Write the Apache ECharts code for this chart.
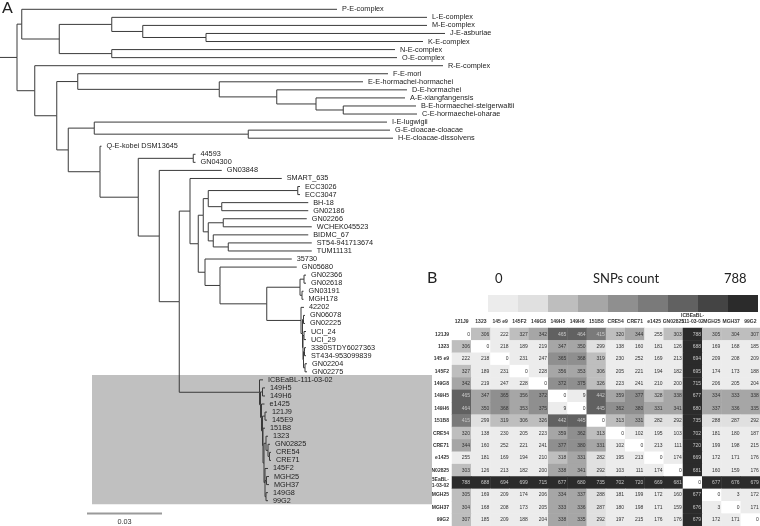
<!DOCTYPE html>
<html>
<head>
<meta charset="utf-8">
<script src="https://cdn.jsdelivr.net/npm/echarts@6/dist/echarts.min.js"></script>
<style>
  html, body { margin: 0; padding: 0; background: #fff; }
  #chart { width: 760px; height: 526px; }
</style>
</head>
<body>
<div id="chart"></div>
<script>
// --- A: phylogeny, branch lengths in substitutions/site ---
const treeNewick =
  "(((P-E-complex:0.1261,((L-E-complex:0.1261,(M-E-complex:0.1137,(J-E-asburiae:0.0956,K-E-complex:0.0868):0.0253):0.0124):0.0210," +
  "(N-E-complex:0.1133,O-E-complex:0.1141):0.0210):0.0150):0.0019," +
  "(R-E-complex:0.1633,((F-E-mori:0.1241,(E-E-hormachei-hormachei:0.0575,(D-E-hormachei:0.0521,(A-E-xiangfangensis:0.0356," +
  "(B-E-hormaechei-steigerwaltii:0.0291,C-E-hormaechei-oharae:0.0295):0.0109):0.0157):0.0230):0.0566):0.0084," +
  "((I-E-lugwigii:0.1171,(G-E-cloacae-cloacae:0.0567,H-E-cloacae-dissolvens:0.0579):0.0616):0.0104," +
  "(Q-E-kobei DSM13645:0.0006,((44593:0.0009,GN04300:0.0009):0.0220,(GN03848:0.0250," +
  "((SMART_635:0.0367," +
    "((((ECC3026:0.0009,ECC3047:0.0009):0.0358,(BH-18:0.0346,GN02186:0.0346):0.0054):0.0020," +
    "((GN02266:0.0334,WCHEK045523:0.0354):0.0060,(BIDMC_67:0.0380,(ST54-941713674:0.0334,TUM11131:0.0334):0.0060):0.0020):0.0020):0.0020," +
    "(35730:0.0347,(GN05680:0.0307,(((GN02366:0.0008,GN02618:0.0008):0.0016,(GN03191:0.0006,MGH178:0.0006):0.0008):0.0133," +
    "(42202:0.0012,((GN06078:0.0006,GN02225:0.0006):0.0004,((UCI_24:0.0008,UCI_29:0.0008):0.0004," +
    "((3380STDY6027363:0.0006,ST434-953099839:0.0006):0.0004,(GN02204:0.0008,GN02275:0.0008):0.0006):0.0002):0.0002):0.0006):0.0137" +
    "):0.0187):0.0060):0.0027):0.0033):0.0043," +
  "(ICBEaBL-111-03-02:0.0014,((149H5:0.0010,149H6:0.0010):0.0008,(e1425:0.0012,((121J9:0.0008,145E9:0.0008):0.0010," +
    "(151B8:0.0008,((1323:0.0008,(GN02825:0.0008,(CRE54:0.0006,CRE71:0.0006):0.0006):0.0008):0.0008," +
    "(145F2:0.0012,(MGH25:0.0010,MGH37:0.0010):0.0006,(149G8:0.0008,99G2:0.0008):0.0004):0.0004):0.0004):0.0002):0.0004)" +
    ":0.0004):0.0004):0.0321" +
  "):0.0080):0.0084):0.0153):0.0127):0.0046):0.0088):0.0071):0.0068);";

const highlightClade = ['ICBEaBL-111-03-02', '99G2'];
const scaleBarLength = 0.03;

// --- B: pairwise SNP distances ---
const strains = ['121J9', '1323', '145 e9', '145F2', '149G8', '149H5', '149H6', '151B8',
  'CRE54', 'CRE71', 'e1425', 'GN02825', 'ICBEaBL-111-03-02', 'MGH25', 'MGH37', '99G2'];
const snpRows = [
  [0, 306, 222, 327, 342, 465, 464, 415, 320, 344, 255, 303, 788, 305, 304, 307],
  [306, 0, 218, 189, 219, 347, 350, 299, 138, 160, 181, 126, 688, 169, 168, 185],
  [222, 218, 0, 231, 247, 365, 368, 319, 230, 252, 169, 213, 694, 209, 208, 209],
  [327, 189, 231, 0, 228, 356, 353, 306, 205, 221, 194, 182, 695, 174, 173, 188],
  [342, 219, 247, 228, 0, 372, 375, 326, 223, 241, 210, 200, 715, 206, 205, 204],
  [465, 347, 365, 356, 372, 0, 9, 442, 359, 377, 328, 338, 677, 334, 333, 338],
  [464, 350, 368, 353, 375, 9, 0, 445, 362, 380, 331, 341, 680, 337, 336, 335],
  [415, 299, 319, 306, 326, 442, 445, 0, 313, 331, 282, 292, 735, 288, 287, 292],
  [320, 138, 230, 205, 223, 359, 362, 313, 0, 102, 195, 103, 702, 181, 180, 187],
  [344, 160, 252, 221, 241, 377, 380, 331, 102, 0, 213, 111, 720, 199, 198, 215],
  [255, 181, 169, 194, 210, 318, 331, 282, 195, 213, 0, 174, 669, 172, 171, 176],
  [303, 126, 213, 182, 200, 338, 341, 292, 103, 111, 174, 0, 681, 160, 159, 176],
  [788, 688, 694, 699, 715, 677, 680, 735, 702, 720, 669, 681, 0, 677, 676, 679],
  [305, 169, 209, 174, 206, 334, 337, 288, 181, 199, 172, 160, 677, 0, 3, 172],
  [304, 168, 208, 173, 205, 333, 336, 287, 180, 198, 171, 159, 676, 3, 0, 171],
  [307, 185, 209, 188, 204, 338, 335, 292, 197, 215, 176, 176, 679, 172, 171, 0]
];
const snpMax = 788;
const snpBreaks = [1, 260, 300, 330, 360, 400, 440, 500, 650, 788];
const snpGrays = ['#ececec', '#e0e0e0', '#bebebe', '#a6a6a6', '#8f8f8f', '#7a7a7a', '#616161', '#444444', '#2b2b2b'];

function parseNewick(s) {
  let i = 0;
  function node() {
    const n = { children: [], name: '', len: 0 };
    if (s[i] === '(') {
      i++;
      n.children.push(node());
      while (s[i] === ',') { i++; n.children.push(node()); }
      i++;
    }
    let name = '';
    while (i < s.length && !',():;'.includes(s[i])) name += s[i++];
    n.name = name.trim();
    if (s[i] === ':') {
      i++;
      let num = '';
      while (i < s.length && !',();'.includes(s[i])) num += s[i++];
      n.len = parseFloat(num);
    }
    return n;
  }
  return node();
}

const root = parseNewick(treeNewick);
const tips = [];
const edges = [];
function layout(n, depth) {
  n.x = depth + n.len;
  if (!n.children.length) {
    n.y = tips.length;
    tips.push(n);
    return;
  }
  n.children.forEach(c => layout(c, n.x));
  n.y = (n.children[0].y + n.children[n.children.length - 1].y) / 2;
  n.children.forEach(c => edges.push([n.x, c.x, n.y, c.y]));
}
layout(root, 0);
// root stub
edges.push([0, root.x, root.y, root.y]);

const tipIndex = name => tips.findIndex(t => t.name === name);
const cladeBox = [[0.0368, 0.1728, tipIndex(highlightClade[0]) - 0.6, tipIndex(highlightClade[1]) + 0.45]];
const scaleBar = [[0.0348, 0.0348 + scaleBarLength, tips.length + 0.6]];

const heatData = [];
snpRows.forEach((row, r) => row.forEach((v, c) => {
  heatData.push({ value: [c, r, v], label: { color: v >= 400 ? '#c8c8c8' : '#333' } });
}));

const pieces = snpGrays.map((color, k) => (
  k === snpGrays.length - 1
    ? { gte: snpBreaks[k], lte: snpBreaks[k + 1], color }
    : { gte: snpBreaks[k], lt: snpBreaks[k + 1], color }
));

const tipFont = '7.3px "Liberation Sans", Arial, sans-serif';
const headFont = { fontSize: 16, fontWeight: 'normal', color: '#222', fontFamily: 'Lato, sans-serif' };
const legendFont = { fontSize: 13, fontWeight: 'normal', color: '#222', fontFamily: 'Lato, sans-serif' };
const stripName = v => v.replace('BL-', 'BL-\n');

const chart = echarts.init(document.getElementById('chart'));
chart.setOption({
  animation: false,
  title: [
    { text: 'A', left: 2, top: 0, padding: 0, textStyle: headFont },
    { text: 'B', left: 427, top: 270, padding: 0, textStyle: headFont },
    { text: '0', left: 495, top: 272, padding: 0, textStyle: legendFont },
    { text: 'SNPs count', left: 593, top: 272, padding: 0, textStyle: legendFont },
    { text: String(snpMax), left: 724, top: 272, padding: 0, textStyle: legendFont }
  ],
  grid: [
    { left: 0, top: 9.3, width: 450, height: 491.4 },
    { left: 452, top: 328, right: 0, height: 200 }
  ],
  xAxis: [
    { gridIndex: 0, type: 'value', min: 0, max: 0.18, show: false },
    {
      gridIndex: 1, type: 'category', data: strains, position: 'top',
      axisLine: { show: false }, axisTick: { show: false }, splitLine: { show: false },
      axisLabel: {
        interval: 0, margin: 3, fontSize: 5, fontWeight: 'bold', color: '#333',
        fontFamily: 'Liberation Sans', lineHeight: 6, formatter: stripName
      }
    }
  ],
  yAxis: [
    { gridIndex: 0, type: 'value', min: 0, max: tips.length - 1, inverse: true, show: false },
    {
      gridIndex: 1, type: 'category', data: strains, inverse: true,
      axisLine: { show: false }, axisTick: { show: false }, splitLine: { show: false },
      axisLabel: {
        interval: 0, margin: 3, fontSize: 5, fontWeight: 'bold', color: '#333',
        fontFamily: 'Liberation Sans', lineHeight: 5.5, formatter: stripName
      }
    }
  ],
  visualMap: {
    type: 'piecewise',
    seriesIndex: 4,
    dimension: 2,
    orient: 'horizontal',
    left: 488,
    top: 295,
    itemWidth: 30,
    itemHeight: 17,
    itemGap: 0,
    itemSymbol: 'rect',
    showLabel: false,
    selectedMode: false,
    padding: 0,
    pieces: pieces,
    outOfRange: { color: '#ffffff' }
  },
  series: [
    {
      type: 'custom',
      xAxisIndex: 0, yAxisIndex: 0,
      data: cladeBox,
      encode: { x: [0, 1], y: [2, 3] },
      z: 1,
      renderItem: (params, api) => {
        const a = api.coord([api.value(0), api.value(2)]);
        const b = api.coord([api.value(1), api.value(3)]);
        return { type: 'rect', shape: { x: a[0], y: a[1], width: b[0] - a[0], height: b[1] - a[1] }, style: { fill: '#c0c0c0' } };
      }
    },
    {
      type: 'custom',
      xAxisIndex: 0, yAxisIndex: 0,
      data: edges,
      encode: { x: [0, 1], y: [2, 3] },
      z: 3,
      renderItem: (params, api) => {
        const p0 = api.coord([api.value(0), api.value(2)]);
        const p1 = api.coord([api.value(0), api.value(3)]);
        const p2 = api.coord([api.value(1), api.value(3)]);
        return {
          type: 'polyline',
          shape: { points: [p0, p1, p2] },
          style: { stroke: '#3a3a3a', lineWidth: 1, fill: null }
        };
      }
    },
    {
      type: 'custom',
      xAxisIndex: 0, yAxisIndex: 0,
      data: tips.map(t => [t.x, t.y]),
      z: 4,
      renderItem: (params, api) => {
        const p = api.coord([api.value(0), api.value(1)]);
        return {
          type: 'text', x: p[0] + 5, y: p[1],
          style: { text: tips[params.dataIndex].name, font: tipFont, fill: '#222', align: 'left', verticalAlign: 'middle' }
        };
      }
    },
    {
      type: 'custom',
      xAxisIndex: 0, yAxisIndex: 0,
      data: scaleBar,
      z: 4,
      renderItem: (params, api) => {
        const a = api.coord([api.value(0), api.value(2)]);
        const b = api.coord([api.value(1), api.value(2)]);
        return {
          type: 'group',
          children: [
            { type: 'line', shape: { x1: a[0], y1: a[1], x2: b[0], y2: b[1] }, style: { stroke: '#9a9a9a', lineWidth: 2 } },
            { type: 'text', x: (a[0] + b[0]) / 2, y: a[1] + 5,
              style: { text: String(scaleBarLength), font: tipFont, fill: '#333', align: 'center', verticalAlign: 'top' } }
          ]
        };
      }
    },
    {
      type: 'heatmap',
      xAxisIndex: 1, yAxisIndex: 1,
      data: heatData,
      label: {
        show: true, position: 'insideRight', distance: 1.5,
        fontSize: 5, fontFamily: 'Liberation Sans'
      },
      emphasis: { disabled: true }
    }
  ]
});
</script>
</body>
</html>
